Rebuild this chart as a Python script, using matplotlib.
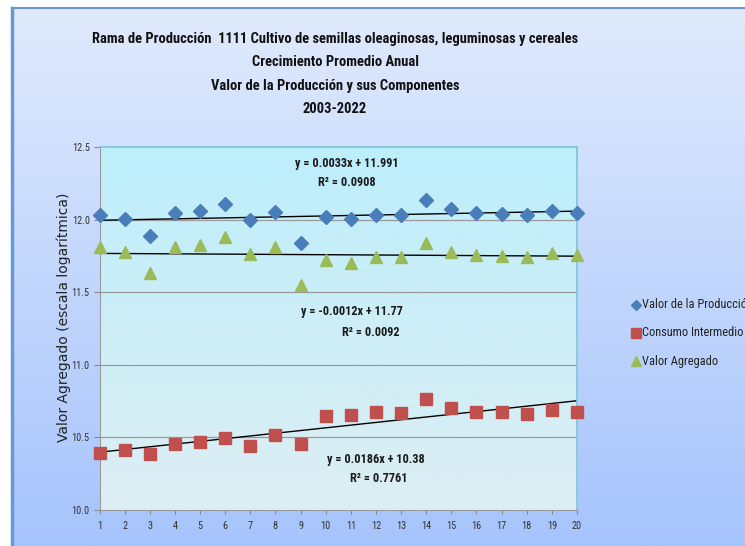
import numpy as np
import matplotlib
matplotlib.use("Agg")
import matplotlib.pyplot as plt
from matplotlib.lines import Line2D
from matplotlib import font_manager

periods = list(range(1, 21))
valor_produccion = [12.032, 12.002, 11.887, 12.043, 12.059, 12.107, 11.997, 12.055, 11.837, 12.016,
                    12.002, 12.034, 12.032, 12.135, 12.073, 12.043, 12.041, 12.032, 12.062, 12.048]
consumo_intermedio = [10.395, 10.413, 10.386, 10.452, 10.468, 10.498, 10.441, 10.514, 10.452, 10.647,
                      10.652, 10.677, 10.670, 10.767, 10.705, 10.673, 10.673, 10.659, 10.689, 10.673]
valor_agregado = [11.809, 11.779, 11.634, 11.813, 11.825, 11.878, 11.763, 11.809, 11.550, 11.722,
                  11.703, 11.740, 11.740, 11.841, 11.779, 11.756, 11.749, 11.740, 11.768, 11.756]
series_names = ["Valor de la Producción", "Consumo Intermedio", "Valor Agregado"]
eq_texts = [("y = 0.0033x + 11.991", "R² = 0.0908"),
            ("y = -0.0012x + 11.77", "R² = 0.0092"),
            ("y = 0.0186x + 10.38", "R² = 0.7761")]
y_ticks = [10.0, 10.5, 11.0, 11.5, 12.0, 12.5]
title_lines = ["Rama de Producción  1111 Cultivo de semillas oleaginosas, leguminosas y cereales",
               "Crecimiento Promedio Anual",
               "Valor de la Producción y sus Componentes",
               "2003-2022"]

available = {f.name for f in font_manager.fontManager.ttflist}
narrow_font = "Liberation Sans"
for cand in ["Liberation Sans Narrow", "DejaVu Sans Condensed", "Roboto Condensed", "Open Sans Condensed"]:
    if cand in available:
        narrow_font = cand
        break
NARROW = [narrow_font, "DejaVu Sans"]

W, H = 745, 546
fig = plt.figure(figsize=(W / 100, H / 100), dpi=100)
fig.patch.set_facecolor("white")
renderer = fig.canvas.get_renderer()


def fit_width(txt, target_px):
    w = txt.get_window_extent(renderer).width
    txt.set_fontsize(txt.get_fontsize() * target_px / w)
    return txt.get_fontsize()


# chart area background gradient
bg = fig.add_axes([12 / W, 0, 1 - 12 / W, 1 - 8 / H])
top_c = np.array([0xe0, 0xea, 0xfd]) / 255
bot_c = np.array([0xa6, 0xc4, 0xfc]) / 255
t = np.linspace(0, 1, 256)[:, None]
grad = top_c[None, :] * (1 - t) + bot_c[None, :] * t
bg.imshow(grad[:, None, :], aspect="auto", extent=[0, 1, 0, 1], origin="upper")
bg.set_xlim(0, 1); bg.set_ylim(0, 1)
bg.axis("off")
bg.plot([0, 0], [0, 1], color="#6a98d4", lw=2.5, clip_on=False)
bg.plot([0, 1], [1, 1], color="#6a98d4", lw=1.5, clip_on=False)

# plot area
L, R, T, B = 99.5, 577, 147, 510
ax = fig.add_axes([L / W, 1 - B / H, (R - L) / W, (B - T) / H])
ax.set_xlim(1, 20)
ax.set_ylim(10.0, 12.5)
ptop = np.array([0xbd, 0xee, 0xfc]) / 255
pbot = np.array([0xdd, 0xee, 0xf3]) / 255
pg = ptop[None, :] * (1 - t) + pbot[None, :] * t
ax.imshow(pg[:, None, :], aspect="auto", extent=[1, 20, 10.0, 12.5], origin="upper", zorder=0)

for yv in y_ticks[1:-1]:
    ax.axhline(yv, color="#9a9a9a", lw=0.9, zorder=1)

x = np.array(periods, dtype=float)
series = [valor_produccion, consumo_intermedio, valor_agregado]
markers = ["D", "s", "^"]
colors = ["#4a7ebb", "#c0504d", "#9bbb59"]
msizes = [7.5, 8.2, 8.5]
for ys, m, c, ms in zip(series, markers, colors, msizes):
    ax.plot(x, ys, linestyle="none", marker=m, color=c, markersize=ms, zorder=3, clip_on=False)
    k, b = np.polyfit(x, ys, 1)
    ax.plot(x, k * x + b, color="black", lw=1.0, zorder=2)

# equations (target widths measured from reference)
eq_pos = [((347, 163), (347, 183)), ((352, 312), (371, 332)), ((376, 459), (379, 478))]
t_eq = fig.text(0, 0, eq_texts[0][0], fontsize=9, fontweight="bold", family=NARROW)
eq_fs = fit_width(t_eq, 103)
t_eq.remove()
for (l1, l2), (p1, p2) in zip(eq_texts, eq_pos):
    for txt, (px, py) in ((l1, p1), (l2, p2)):
        fig.text(px / W, 1 - py / H, txt, ha="center", va="center", fontsize=eq_fs,
                 fontweight="bold", family=NARROW, color="#1a1a1a")

# ticks
t_tk = fig.text(0, 0, "12.5", fontsize=8, family=NARROW)
tk_fs = fit_width(t_tk, 18)
t_tk.remove()
ax.set_yticks(y_ticks)
ax.set_yticklabels([f"{v:.1f}" for v in y_ticks], family=NARROW, fontsize=tk_fs, color="#333333")
ax.set_xticks(periods)
ax.set_xticklabels([str(p) for p in periods], family=NARROW, fontsize=tk_fs, color="#333333")
ax.tick_params(axis="y", length=4, color="#888888", pad=3)
ax.tick_params(axis="x", length=3, color="#888888", pad=5)
for s in ["left", "bottom"]:
    ax.spines[s].set_color("#9a9a9a")
for s in ["top", "right"]:
    ax.spines[s].set_color("#7cc4d6")
    ax.spines[s].set_linewidth(1.2)

ylab = fig.text(64 / W, 1 - 317 / H, "Valor Agregado (escala logarítmica)", rotation=90,
                ha="center", va="center", fontsize=10, color="#222222", family="DejaVu Sans")

# title
t_ti = fig.text(0, 0, title_lines[0], fontsize=10, fontweight="bold", family=NARROW)
ti_fs = fit_width(t_ti, 485)
t_ti.remove()
for i, line in enumerate(title_lines):
    fig.text(335 / W, 1 - (39 + i * 23.3) / H, line, ha="center", va="center",
             fontsize=ti_fs, fontweight="bold", family=NARROW, color="#111111")

# legend
t_lg = fig.text(0, 0, "Valor Agregado", fontsize=9, family=NARROW)
lg_fs = fit_width(t_lg, 76)
t_lg.remove()
leg_y = [305, 333, 361]
for name, m, c, ms, ly in zip(series_names, markers, colors, [5, 6.5, 6.5], leg_y):
    fig.add_artist(Line2D([636 / W], [1 - ly / H], marker=m, color=c, markersize=ms,
                          linestyle="none", transform=fig.transFigure))
    fig.text(642 / W, 1 - ly / H, name, ha="left", va="center", fontsize=lg_fs,
             family=NARROW, color="#222222")

fig.savefig("out.png", dpi=100)
